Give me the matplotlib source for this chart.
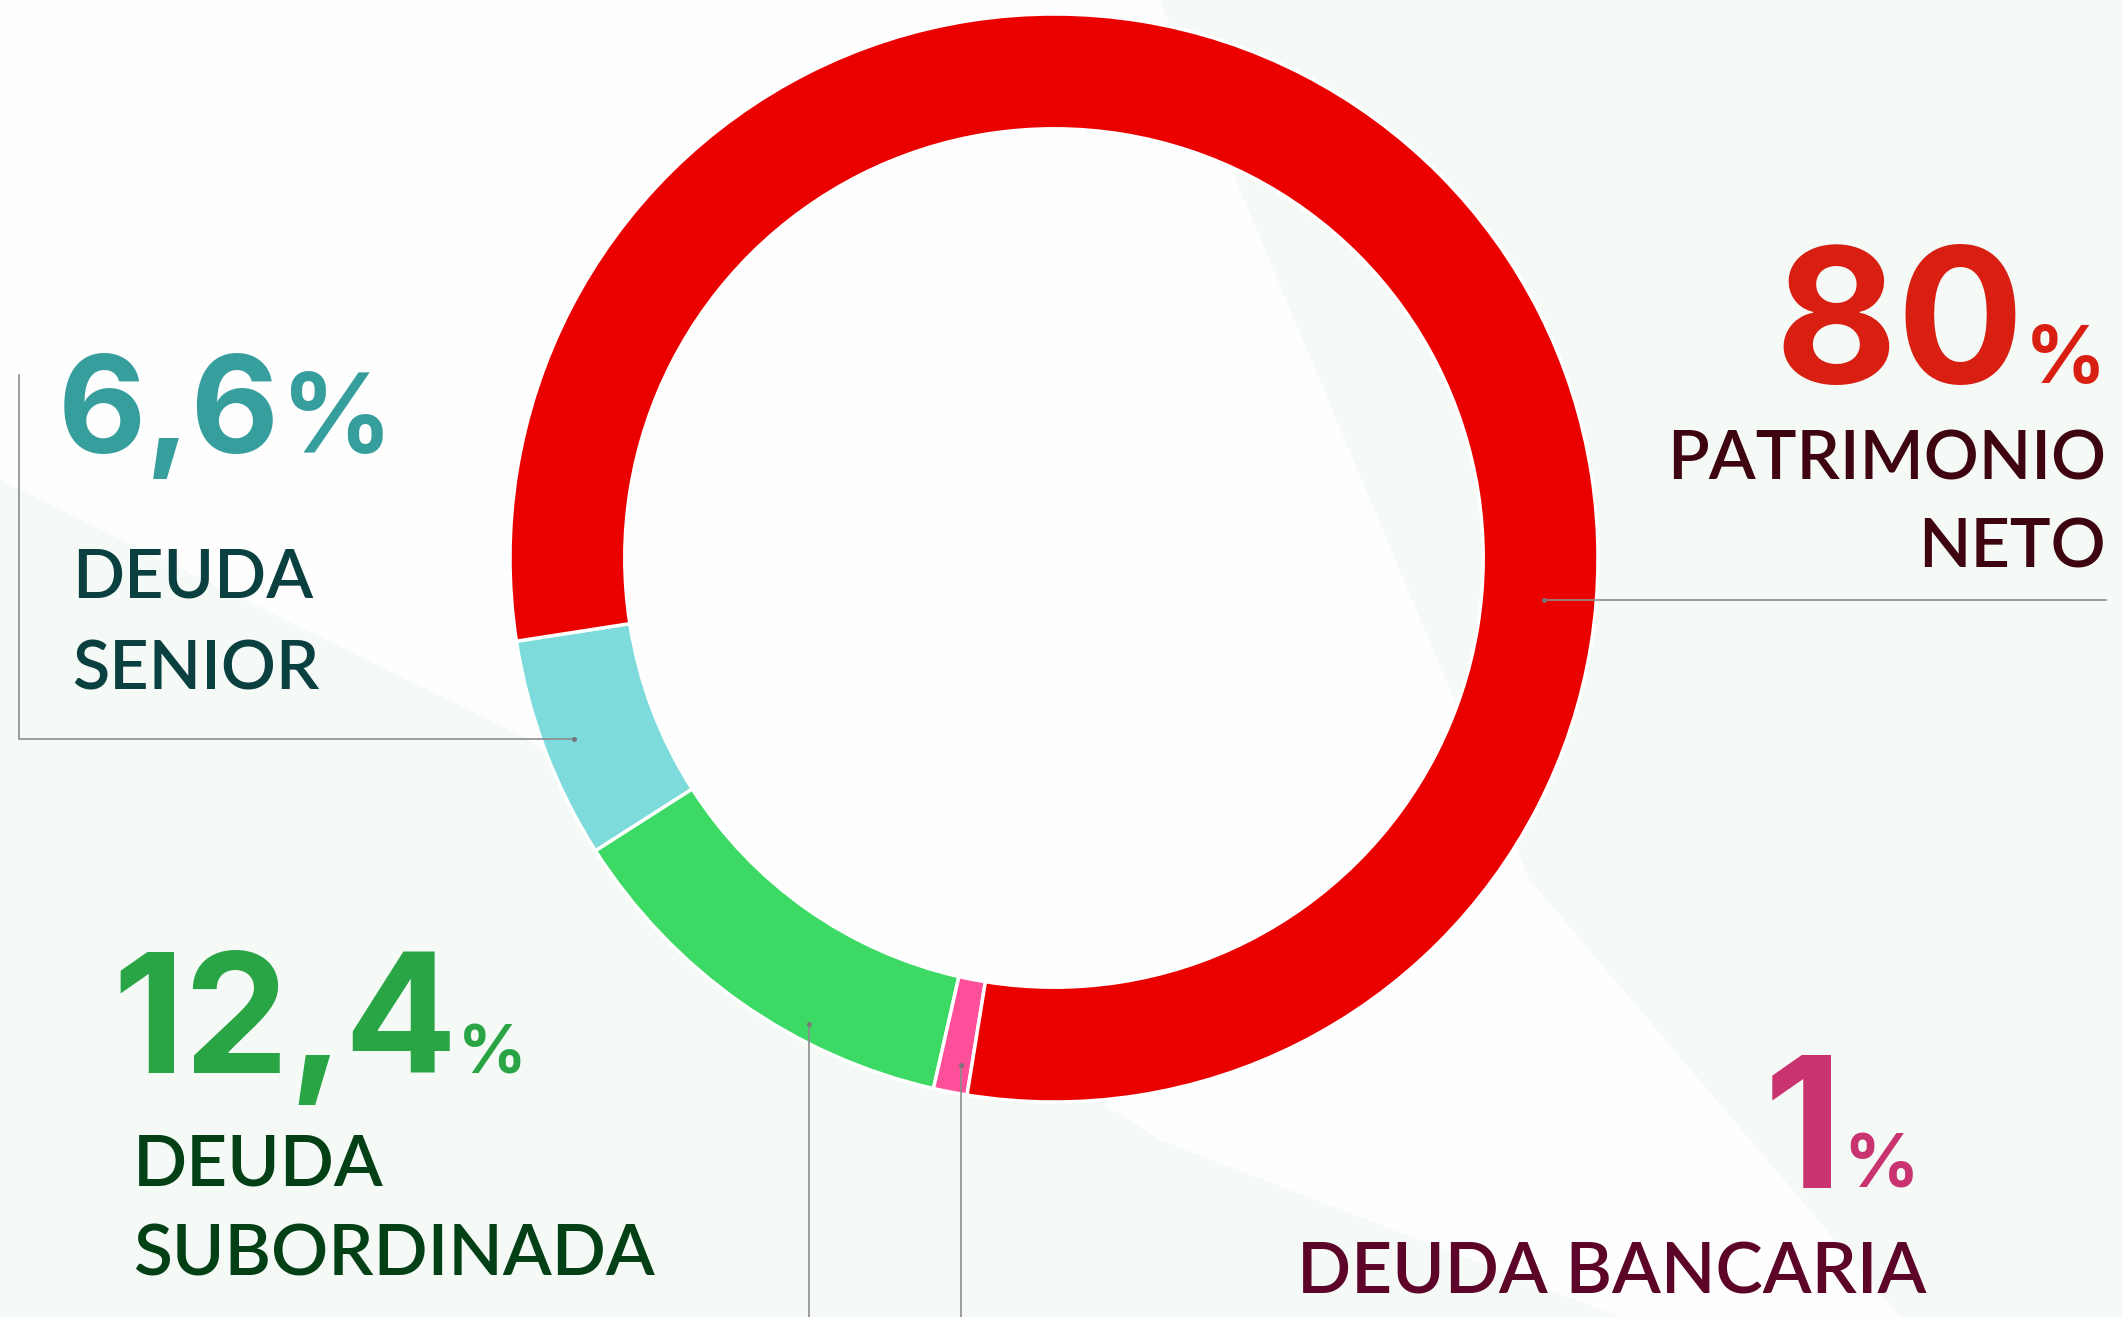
import matplotlib
matplotlib.use('Agg')
import matplotlib.pyplot as plt
from matplotlib.patches import Polygon

W, H = 2122, 1317
DPI = 100

# ---- data ----
segments = ['DEUDA SENIOR', 'DEUDA SUBORDINADA', 'DEUDA BANCARIA', 'PATRIMONIO NETO']
values = [6.6, 12.4, 1.0, 80.0]
seg_colors = ['#7DDBDB', '#3CD964', '#FF4F9A', '#EB0000']
label_lines = [['DEUDA', 'SENIOR'], ['DEUDA', 'SUBORDINADA'], ['DEUDA BANCARIA'], ['PATRIMONIO', 'NETO']]
num_colors = ['#379E9E', '#2AA546', '#C93370', '#D81F11']
lab_colors = ['#0B4040', '#044015', '#5C0529', '#3E0510']

NUM_FONT = 'Inter'
LAB_FONT = 'Lato'
CAP_NUM = 0.727
CAP_LAB = 0.7165


def fs(cap_px, cap=CAP_LAB):
    return cap_px / cap * 72 / DPI


def fmt(v):
    return ('%g' % v).replace('.', ',')


fig = plt.figure(figsize=(W / DPI, H / DPI), dpi=DPI)
fig.patch.set_facecolor('#F5FAF7')
bg = fig.add_axes([0, 0, 1, 1])
bg.set_xlim(0, W)
bg.set_ylim(H, 0)
bg.axis('off')
beam = [(0, 0), (1160, 0), (1530, 880), (1900, 1317), (1620, 1317),
        (1160, 1140), (520, 735), (0, 480)]
bg.add_patch(Polygon(beam, closed=True, fc='white', ec='none', alpha=0.85, zorder=0))

# ---- donut ----
cx, cy, R = 1054, 558, 544
pax = fig.add_axes([(cx - R) / W, (H - cy - R) / H, 2 * R / W, 2 * R / H])
pax.pie(values, colors=seg_colors, startangle=188.8, counterclock=True, radius=1,
        wedgeprops=dict(width=0.211, edgecolor='white', linewidth=2.5))
pax.set_xlim(-1, 1)
pax.set_ylim(-1, 1)
pax.axis('off')

# ---- overlay for lines and text ----
ov = fig.add_axes([0, 0, 1, 1])
ov.set_xlim(0, W)
ov.set_ylim(H, 0)
ov.axis('off')
ov.patch.set_alpha(0)

lc = '#8C8C8C'
lw = 1.2
ov.plot([19, 19, 574], [375, 739, 739], color=lc, lw=lw)
ov.plot([1544, 2106], [600, 600], color=lc, lw=lw)
ov.plot([809, 809], [1024, 1317], color=lc, lw=lw)
ov.plot([961, 961], [1065, 1317], color=lc, lw=lw)
ov.plot([574, 1544, 809, 961], [739, 600, 1024, 1065], 'o', color='#777777', ms=2.5)

renderer = fig.canvas.get_renderer()
inv = ov.transData.inverted()


def xext(t):
    bb = t.get_window_extent(renderer)
    x0 = inv.transform((bb.x0, bb.y0))[0]
    x1 = inv.transform((bb.x1, bb.y0))[0]
    return x0, x1


def big(i, x, y, cap, pct_cap, target_w, pct_x, side):
    size = fs(cap, CAP_NUM)
    kw = dict(fontweight='bold', family=NUM_FONT, color=num_colors[i], va='baseline')
    if side == 'left':
        t = ov.text(x, y, fmt(values[i]), fontsize=size, ha='left', **kw)
        x0, x1 = xext(t)
        if x1 - x0 > target_w:
            t.set_fontsize(size * target_w / (x1 - x0))
            x0, x1 = xext(t)
        ov.text(max(pct_x, x1 + 1), y, '%', fontsize=fs(pct_cap, CAP_NUM), ha='left', **kw)
    else:
        p = ov.text(pct_x, y, '%', fontsize=fs(pct_cap, CAP_NUM), ha='right', **kw)
        px0, _ = xext(p)
        t = ov.text(min(x, px0 - 1), y, fmt(values[i]), fontsize=size, ha='right', **kw)
        x0, x1 = xext(t)
        if x1 - x0 > target_w:
            t.set_fontsize(size * target_w / (x1 - x0))


big(0, 58, 453, 108, 80, 222, 280, 'left')
big(3, 2040, 383, 139, 58, 250, 2106, 'right')
big(1, 112, 1073, 135, 49, 345, 453, 'left')
big(2, 1850, 1188, 133, 54, 95, 1919, 'right')


def lab(i, k, x, y, cap, ha):
    ov.text(x, y, label_lines[i][k], fontsize=fs(cap), family=LAB_FONT, fontweight='semibold',
            color=lab_colors[i], ha=ha, va='baseline')


lab(0, 0, 72, 597, 49, 'left')
lab(0, 1, 72, 690, 49, 'left')
lab(3, 0, 2106, 479, 49, 'right')
lab(3, 1, 2106, 568, 49, 'right')
lab(1, 0, 133, 1185, 51, 'left')
lab(1, 1, 133, 1275, 51, 'left')
lab(2, 0, 1297, 1294, 51, 'left')

fig.savefig('out.png', dpi=DPI, facecolor=fig.get_facecolor())
